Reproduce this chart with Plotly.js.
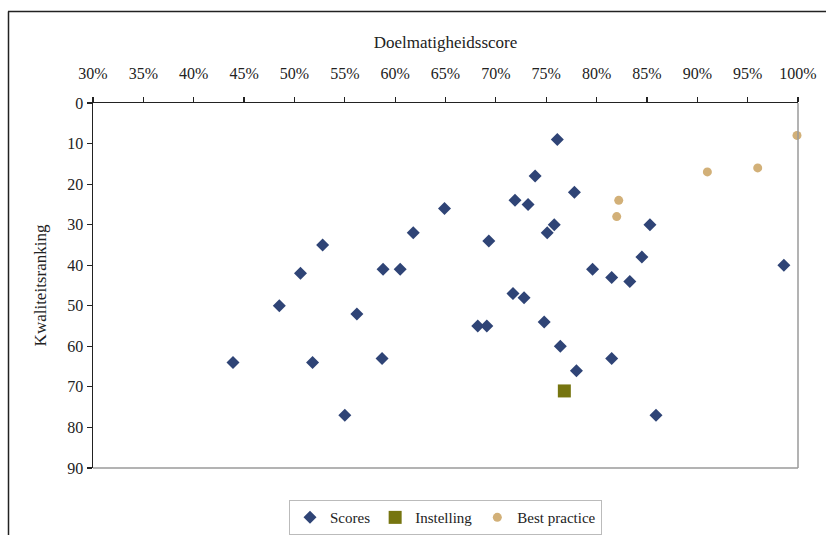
<!DOCTYPE html>
<html>
<head>
<meta charset="utf-8">
<script src="https://cdn.plot.ly/plotly-3.0.1.min.js"></script>
<style>html,body{margin:0;padding:0;background:#fff;}#chart{width:826px;height:535px;}</style>
</head>
<body>
<div id="chart"></div>
<script>
// Scores (Doelmatigheidsscore as fraction, Kwaliteitsranking)
var scoresX = [0.439, 0.485, 0.506, 0.528, 0.518, 0.550, 0.562, 0.587, 0.588, 0.605, 0.618, 0.649,
               0.693, 0.719, 0.732, 0.739, 0.761, 0.778, 0.758, 0.751, 0.853, 0.845, 0.796, 0.815,
               0.833, 0.986, 0.717, 0.728, 0.682, 0.691, 0.748, 0.764, 0.815, 0.780, 0.859];
var scoresY = [64, 50, 42, 35, 64, 77, 52, 63, 41, 41, 32, 26,
               34, 24, 25, 18, 9, 22, 30, 32, 30, 38, 41, 43,
               44, 40, 47, 48, 55, 55, 54, 60, 63, 66, 77];
// Instelling
var instX = [0.768];
var instY = [71];
// Best practice
var bestX = [0.822, 0.820, 0.910, 0.960, 0.999];
var bestY = [24, 28, 17, 16, 8];

var xTicks = [0.30,0.35,0.40,0.45,0.50,0.55,0.60,0.65,0.70,0.75,0.80,0.85,0.90,0.95,1.00];
var xTickText = ['30%','35%','40%','45%','50%','55%','60%','65%','70%','75%','80%','85%','90%','95%','100%'];
var yTicks = [0,10,20,30,40,50,60,70,80,90];

var serif = 'Liberation Serif, Times New Roman, serif';

var traces = [
  {x: scoresX, y: scoresY, type: 'scatter', mode: 'markers', name: 'Scores',
   marker: {symbol: 'diamond', size: 10, color: '#2f4476'}, cliponaxis: false},
  {x: instX, y: instY, type: 'scatter', mode: 'markers', name: 'Instelling',
   marker: {symbol: 'square', size: 13, color: '#767510'}, cliponaxis: false},
  {x: bestX, y: bestY, type: 'scatter', mode: 'markers', name: 'Best practice',
   marker: {symbol: 'circle', size: 9, color: '#d2b078'}, cliponaxis: false}
];

function px(p){ return (p-93)/705; }
function py(p){ return (468-p)/365; }

var layout = {
  width: 826, height: 535,
  margin: {l: 93, r: 28, t: 103, b: 67, autoexpand: false},
  paper_bgcolor: '#fff', plot_bgcolor: '#fff',
  showlegend: true,
  font: {family: serif, size: 14, color: '#222'},
  xaxis: {
    side: 'top', range: [0.30, 1.00], tickvals: xTicks, ticktext: xTickText,
    showgrid: false, zeroline: false, showline: true, linecolor: '#222', linewidth: 1.5,
    ticks: 'outside', ticklen: 5, tickcolor: '#222', tickwidth: 1.2,
    ticklabelstandoff: 11,
    tickfont: {family: serif, size: 16, color: '#222'},
    title: {text: 'Doelmatigheidsscore', font: {family: serif, size: 17, color: '#222'}, standoff: 12},
    fixedrange: true
  },
  yaxis: {
    range: [90, 0], tickvals: yTicks,
    showgrid: false, zeroline: false, showline: true, linecolor: '#222', linewidth: 1.5,
    ticks: 'outside', ticklen: 5, tickcolor: '#222', tickwidth: 1.2,
    tickfont: {family: serif, size: 16, color: '#222'},
    title: {text: 'Kwaliteitsranking', font: {family: serif, size: 17, color: '#222'}, standoff: 16},
    fixedrange: true
  },
  legend: {
    orientation: 'h', x: 0.5, xanchor: 'center', y: -0.088, yanchor: 'top',
    bordercolor: '#bbb', borderwidth: 1, bgcolor: '#fff',
    font: {family: serif, size: 15, color: '#222'},
    itemwidth: 30, tracegroupgap: 0
  },
  shapes: [
    {type: 'line', xref: 'paper', yref: 'paper', x0: 1, x1: 1, y0: 0, y1: 1, line: {color: '#9a9a9a', width: 1.5}},
    {type: 'line', xref: 'paper', yref: 'paper', x0: 0, x1: 1, y0: 0, y1: 0, line: {color: '#9a9a9a', width: 1.5}},
    {type: 'line', xref: 'paper', yref: 'paper', x0: px(8), x1: px(830), y0: py(11.5), y1: py(11.5), line: {color: '#222', width: 1.5}},
    {type: 'line', xref: 'paper', yref: 'paper', x0: px(8.5), x1: px(8.5), y0: py(11.5), y1: py(540), line: {color: '#222', width: 1.5}}
  ]
};

Plotly.newPlot('chart', traces, layout, {displayModeBar: false, staticPlot: true});
</script>
</body>
</html>
